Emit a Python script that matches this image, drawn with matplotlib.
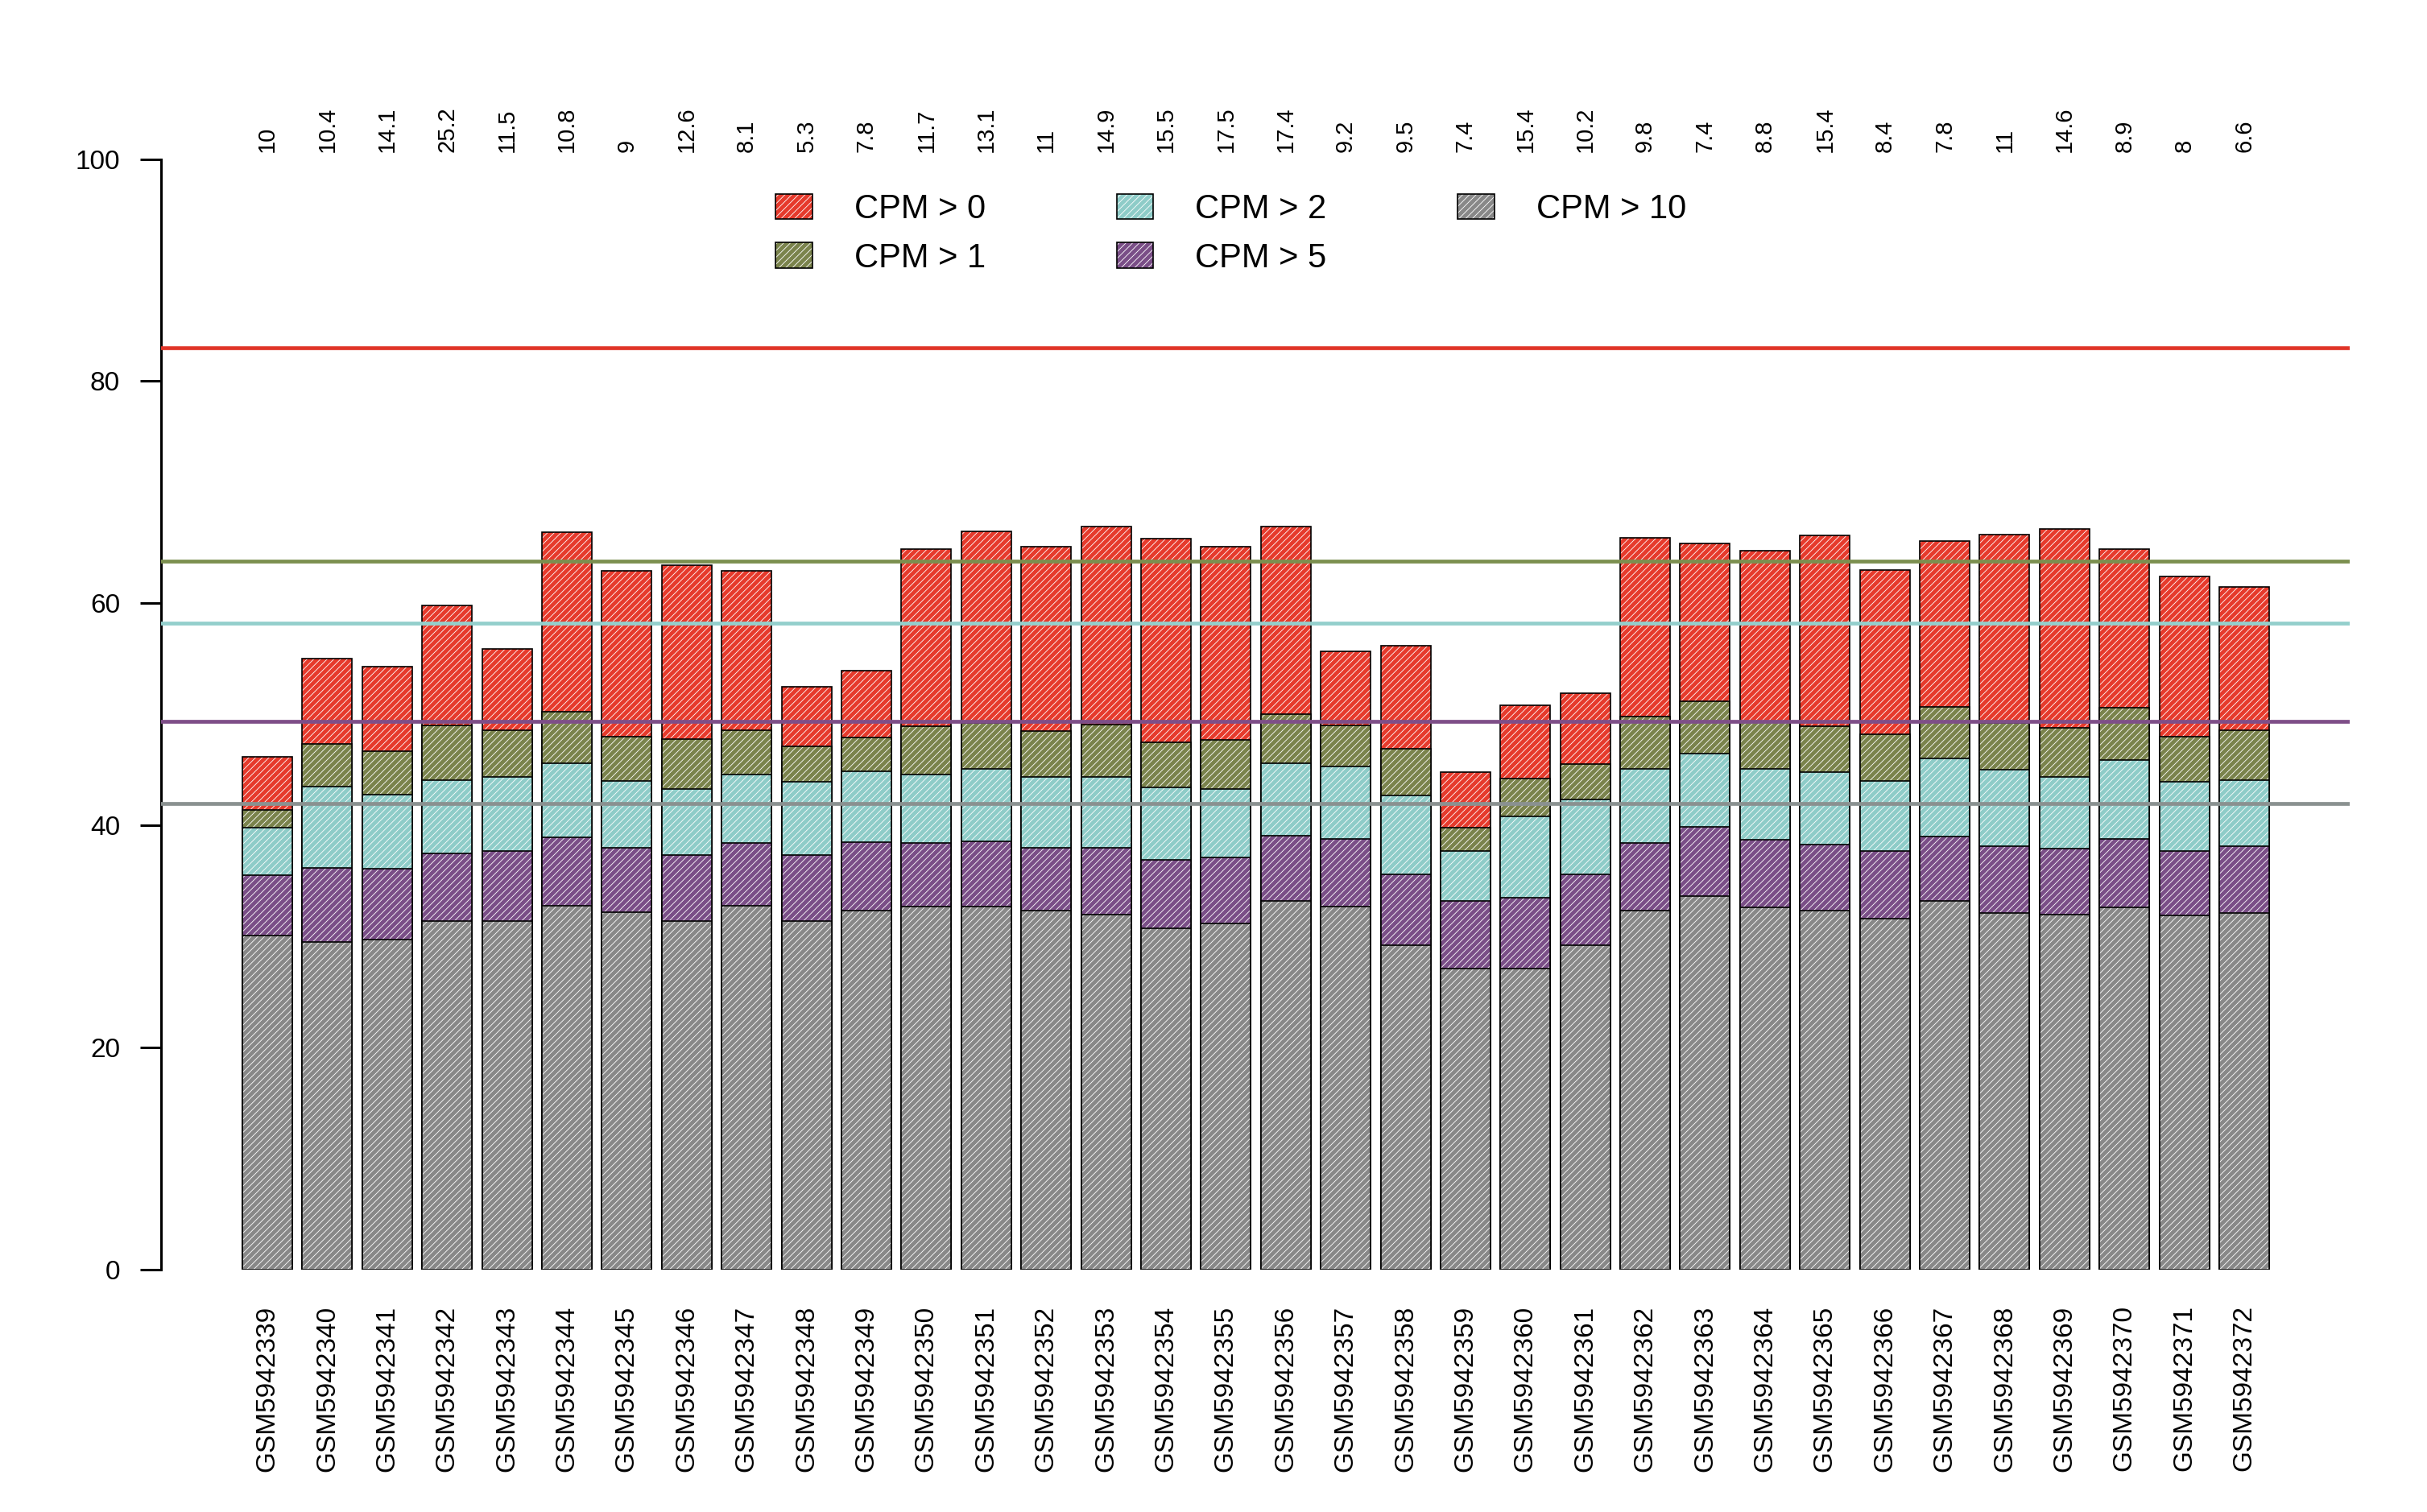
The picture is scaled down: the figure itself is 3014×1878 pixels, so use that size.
import matplotlib
matplotlib.use("Agg")
import matplotlib.pyplot as plt
from matplotlib.patches import Patch
from matplotlib.legend_handler import HandlerTuple
import numpy as np

plt.rcParams['font.family'] = ['Liberation Sans', 'DejaVu Sans']
plt.rcParams['hatch.linewidth'] = 0.6
plt.rcParams['hatch.color'] = 'white'

# sample ids
samples = ["GSM5942339", "GSM5942340", "GSM5942341", "GSM5942342", "GSM5942343",
           "GSM5942344", "GSM5942345", "GSM5942346", "GSM5942347", "GSM5942348",
           "GSM5942349", "GSM5942350", "GSM5942351", "GSM5942352", "GSM5942353",
           "GSM5942354", "GSM5942355", "GSM5942356", "GSM5942357", "GSM5942358",
           "GSM5942359", "GSM5942360", "GSM5942361", "GSM5942362", "GSM5942363",
           "GSM5942364", "GSM5942365", "GSM5942366", "GSM5942367", "GSM5942368",
           "GSM5942369", "GSM5942370", "GSM5942371", "GSM5942372"]

# % of genes above each CPM threshold
cpm0 = [46.2, 55.0, 54.3, 59.8, 55.9, 66.4, 62.9, 63.4, 62.9, 52.5, 53.9, 64.9,
        66.5, 65.1, 66.9, 65.8, 65.1, 66.9, 55.7, 56.2, 44.8, 50.8, 51.9, 65.9,
        65.4, 64.7, 66.1, 63.0, 65.6, 66.2, 66.7, 64.9, 62.4, 61.5]
cpm1 = [41.4, 47.3, 46.7, 49.0, 48.6, 50.2, 48.0, 47.8, 48.6, 47.1, 47.9, 48.9,
        49.2, 48.5, 49.1, 47.5, 47.7, 50.0, 49.0, 46.9, 39.8, 44.2, 45.5, 49.8,
        51.2, 49.3, 48.9, 48.2, 50.7, 49.2, 48.8, 50.6, 48.0, 48.6]
cpm2 = [39.8, 43.5, 42.8, 44.1, 44.4, 45.6, 44.0, 43.3, 44.6, 43.9, 44.9, 44.6,
        45.1, 44.4, 44.4, 43.4, 43.3, 45.6, 45.3, 42.7, 37.7, 40.8, 42.3, 45.1,
        46.5, 45.1, 44.8, 44.0, 46.0, 45.0, 44.4, 45.9, 43.9, 44.1]
cpm5 = [35.5, 36.2, 36.1, 37.5, 37.7, 38.9, 38.0, 37.3, 38.4, 37.3, 38.5, 38.4,
        38.6, 38.0, 38.0, 36.9, 37.1, 39.1, 38.8, 35.6, 33.2, 33.5, 35.6, 38.4,
        39.9, 38.7, 38.3, 37.7, 39.0, 38.1, 37.9, 38.8, 37.7, 38.1]
cpm10 = [30.1, 29.5, 29.7, 31.4, 31.4, 32.8, 32.2, 31.4, 32.8, 31.4, 32.3, 32.7,
         32.7, 32.3, 32.0, 30.7, 31.2, 33.2, 32.7, 29.2, 27.1, 27.1, 29.2, 32.3,
         33.6, 32.6, 32.3, 31.6, 33.2, 32.1, 32.0, 32.6, 31.9, 32.1]

# numbers printed above the bars
top_labels = [10, 10.4, 14.1, 25.2, 11.5, 10.8, 9, 12.6, 8.1, 5.3, 7.8, 11.7,
              13.1, 11, 14.9, 15.5, 17.5, 17.4, 9.2, 9.5, 7.4, 15.4, 10.2, 9.8,
              7.4, 8.8, 15.4, 8.4, 7.8, 11, 14.6, 8.9, 8, 6.6]

# reference lines
ref_levels = [83.0, 63.8, 58.2, 49.4, 42.0]

series_names = ["CPM > 0", "CPM > 1", "CPM > 2", "CPM > 5", "CPM > 10"]
fill_cols = ["#E63A2C", "#7A834C", "#8ECCC8", "#7A4E87", "#888888"]
line_cols = ["#E03427", "#7B8F4F", "#93CFCC", "#7E4E88", "#8A9190"]

W, H = 3014, 1878
fig = plt.figure(figsize=(W / 100, H / 100), dpi=100)
ax = fig.add_axes([200 / W, 1 - 1577 / H, (2918 - 200) / W, (1577 - 197.5) / H])

x = np.arange(len(samples))
bw = 1 / 1.2
series = [cpm0, cpm1, cpm2, cpm5, cpm10]
for k, (vals, col) in enumerate(zip(series, fill_cols)):
    ax.bar(x, vals, width=bw, facecolor=col, edgecolor="white", linewidth=0,
           hatch="////", zorder=2 + 2 * k)
    ax.bar(x, vals, width=bw, fill=False, edgecolor="black", linewidth=1.2,
           zorder=3 + 2 * k)

for lv, col in zip(ref_levels, line_cols):
    ax.axhline(lv, color=col, lw=3.4, zorder=20)

for xi, v in zip(x, top_labels):
    ax.text(xi, 100.6, f"{v:g}", rotation=90, ha="center", va="bottom",
            fontsize=21, clip_on=False)

ax.set_xlim(-1.774, 34.76)
ax.set_ylim(0, 100)
for s in ["top", "right", "bottom"]:
    ax.spines[s].set_visible(False)
ax.spines["left"].set_bounds(0, 100)
ax.spines["left"].set_linewidth(2.2)
ax.set_yticks([0, 20, 40, 60, 80, 100])
ax.tick_params(axis="y", length=18.7, width=2.2, labelsize=24, pad=18)
ax.set_xticks(x)
ax.set_xticklabels(samples, rotation=90, fontsize=24)
ax.tick_params(axis="x", length=0, pad=32)

handles = []
for col in fill_cols:
    h1 = Patch(facecolor=col, edgecolor="white", linewidth=0, hatch="////")
    h2 = Patch(fill=False, edgecolor="black", linewidth=1.2)
    handles.append((h1, h2))
ax.legend(handles, series_names, handler_map={tuple: HandlerTuple(ndivide=1)},
          ncol=3, frameon=False, fontsize=30, loc="upper left",
          bbox_to_anchor=(963 / W, 1 - 240 / H), bbox_transform=fig.transFigure,
          borderpad=0, borderaxespad=0, handlelength=1.1, handleheight=0.8,
          handletextpad=1.25, columnspacing=3.9, labelspacing=0.5)

fig.savefig("out.png", dpi=100)
